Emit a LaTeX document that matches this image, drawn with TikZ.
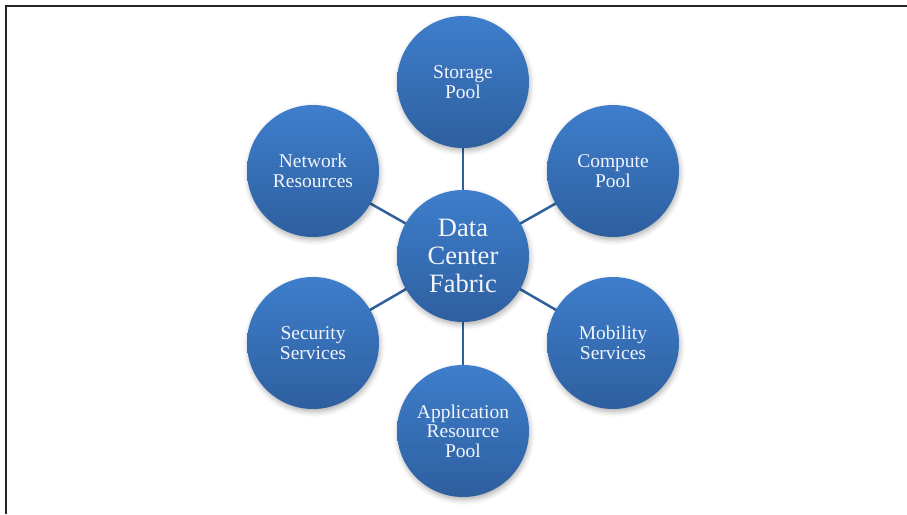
\documentclass[tikz,border=0pt]{standalone}
\usepackage{fontspec}
\setmainfont{Liberation Serif}
\usetikzlibrary{backgrounds,shadows.blur}
\definecolor{balltop}{HTML}{3E7ECC}
\definecolor{ballbot}{HTML}{2E5F9F}
\definecolor{spoke}{HTML}{30609C}
\definecolor{balltext}{HTML}{F2F5FA}
\tikzset{
  ball/.style={circle, minimum size=132pt, inner sep=0pt,
    top color=balltop, bottom color=ballbot, text=balltext, align=center,
    blur shadow={shadow xshift=1pt, shadow yshift=-3pt,
      shadow blur radius=5pt, shadow opacity=30}},
  leaf/.style={ball, font=\fontsize{19.5}{19.6}\selectfont},
  hub/.style={ball, font=\fontsize{26.5}{28.2}\selectfont},
  link/.style={draw=spoke, line width=2.5pt},
  frame/.style={draw=black!85, line width=2pt}
}
\begin{document}
\begin{tikzpicture}[x=1pt,y=-1pt]
  \useasboundingbox (0,0) rectangle (907,514);
  % page frame (top and left edges)
  \coordinate (fTL) at (6,6);
  \coordinate (fTR) at (907,6);
  \coordinate (fBL) at (6,514);
  \draw[frame] (fTR) -- (fTL) -- (fBL);

  % hub and six surrounding resources
  \node[hub]  (hub) at (463,256) {Data\\Center\\Fabric};
  \node[leaf] (sto) at (463,82)  {Storage\\Pool};
  \node[leaf] (cmp) at (613,171) {Compute\\Pool};
  \node[leaf] (mob) at (613,343) {Mobility\\Services};
  \node[leaf] (app) at (463,431) {Application\\Resource\\Pool};
  \node[leaf] (sec) at (313,343) {Security\\Services};
  \node[leaf] (net) at (313,171) {Network\\Resources};

  % spokes behind the circles
  \begin{scope}[on background layer]
    \foreach \n in {sto,cmp,mob,app,sec,net}
      \draw[link] (hub.center) -- (\n.center);
  \end{scope}
\end{tikzpicture}
\end{document}
